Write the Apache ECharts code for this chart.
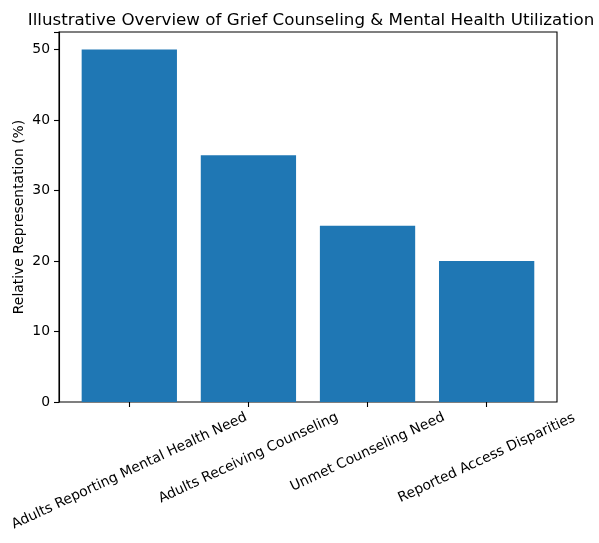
<!DOCTYPE html>
<html>
<head>
<meta charset="utf-8">
<script src="https://cdn.jsdelivr.net/npm/echarts@6/dist/echarts.min.js"></script>
<style>
  html, body { margin: 0; padding: 0; background: #fff; }
  #chart { width: 599px; height: 543px; }
</style>
</head>
<body>
<div id="chart"></div>
<script>
// data
var categories = [
    'Adults Reporting Mental Health Need',
    'Adults Receiving Counseling',
    'Unmet Counseling Need',
    'Reported Access Disparities'
];
var values = [50, 35, 25, 20];
var yTicks = [0, 10, 20, 30, 40, 50];

// matplotlib hangs every rotated label from the same top line, so the
// centre of each label sits a different distance under the axis (px)
var labelDrop = [69, 56, 50, 56];
var labelMargin = 10, fontPx = 13.9;
var rad = 25 * Math.PI / 180;

var catData = [];
for (var i = 0; i < categories.length; i++) {
    var s = labelDrop[i] - labelMargin;
    catData.push({
        value: categories[i],
        textStyle: {
            align: 'center',
            verticalAlign: 'top',
            // top padding pushes along the text normal, right padding pulls back along the text
            padding: [s * Math.cos(rad) - fontPx / 2, 2 * s * Math.sin(rad), 0, 0]
        }
    });
}

var chart = echarts.init(document.getElementById('chart'));
var font = 'DejaVu Sans';
var option = {
    backgroundColor: '#fff',
    animation: false,
    textStyle: { fontFamily: font },
    title: {
        text: 'Illustrative Overview of Grief Counseling & Mental Health Utilization',
        left: 306,
        top: 7,
        textAlign: 'center',
        textStyle: { fontFamily: font, fontSize: 16.7, fontWeight: 'normal', color: '#000' }
    },
    grid: [
        { left: 59, right: 42, top: 32, bottom: 141, outerBoundsMode: 'none', containLabel: false,
          show: true, borderColor: '#000', borderWidth: 1.1, backgroundColor: 'transparent' },
        { left: 69.75, right: 52.8, top: 32, bottom: 141, outerBoundsMode: 'none', containLabel: false }
    ],
    xAxis: [
        { type: 'value', gridIndex: 0, min: 0, max: 1, show: false },
        {
            type: 'category',
            gridIndex: 1,
            data: catData,
            axisLine: { show: false },
            axisTick: { show: true, alignWithLabel: true, length: 5, lineStyle: { color: '#000', width: 1.1 } },
            axisLabel: {
                rotate: 25,
                margin: labelMargin,
                interval: 0,
                hideOverlap: false,
                fontFamily: font,
                fontSize: fontPx,
                color: '#000'
            }
        }
    ],
    yAxis: [
        {
            type: 'value',
            gridIndex: 0,
            min: 0,
            max: 52.5,
            interval: 10,
            name: 'Relative Representation (%)',
            nameLocation: 'middle',
            nameGap: 33,
            nameMoveOverlap: false,
            nameTextStyle: { fontFamily: font, fontSize: fontPx, color: '#000' },
            axisLine: { show: true, lineStyle: { color: '#000', width: 1.1 } },
            axisTick: { show: true, length: 5, lineStyle: { color: '#000', width: 1.1 } },
            axisLabel: {
                fontFamily: font,
                fontSize: fontPx,
                color: '#000',
                margin: 9,
                formatter: function (v) { return yTicks.indexOf(v) >= 0 ? String(v) : ''; }
            },
            splitLine: { show: false }
        },
        { type: 'value', gridIndex: 1, min: 0, max: 52.5, show: false }
    ],
    series: [{
        type: 'bar',
        xAxisIndex: 1,
        yAxisIndex: 1,
        data: values,
        barWidth: '80%',
        itemStyle: { color: '#1f77b4' }
    }]
};
chart.setOption(option);
</script>
</body>
</html>
